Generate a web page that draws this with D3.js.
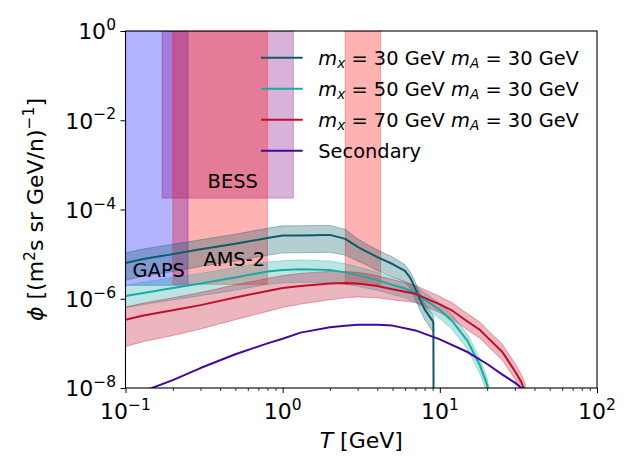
<!DOCTYPE html>
<html><head><meta charset="utf-8">
<script src="https://cdn.jsdelivr.net/npm/d3@7"></script>
<style>body{margin:0;background:#fff}svg{display:block}text{font-family:"DejaVu Sans",sans-serif;fill:#000}</style>
</head><body><svg id="c" width="640" height="476"></svg>
<script>
// ---------------- data ----------------
const T30   = [0.1, 0.13, 0.2, 0.3, 0.5, 0.8, 1.0, 1.3, 1.6, 2.0, 2.5, 3.0, 3.5, 4.0, 5.0, 6.0, 6.5, 7.0, 7.5, 8.0, 9.0, 9.1, 9.17];
const phi30 = [6.3e-6, 7.8e-6, 1.0e-5, 1.29e-5, 1.7e-5, 2.3e-5, 2.6e-5, 2.6e-5, 2.65e-5, 2.7e-5, 2.2e-5, 1.45e-5, 1.1e-5, 8.6e-6, 6.0e-6, 4.2e-6, 2.9e-6, 1.65e-6, 9.4e-7, 5.8e-7, 3.2e-7, 2.9e-7, 1e-12];
const hi30  = [1.07e-5, 1.3e-5, 1.66e-5, 2.1e-5, 2.8e-5, 3.8e-5, 4.3e-5, 4.3e-5, 4.4e-5, 4.4e-5, 3.6e-5, 2.2e-5, 1.6e-5, 1.25e-5, 8.6e-6, 5.8e-6, 4.0e-6, 2.3e-6, 1.3e-6, 8.0e-7, 4.4e-7, 4.0e-7, 1e-12];
const lo30  = [2.6e-6, 3.2e-6, 4.1e-6, 5.3e-6, 7.0e-6, 9.4e-6, 1.07e-5, 1.07e-5, 1.09e-5, 1.1e-5, 9.5e-6, 7.0e-6, 5.5e-6, 4.3e-6, 3.1e-6, 2.4e-6, 1.7e-6, 9.5e-7, 5.5e-7, 3.4e-7, 1.9e-7, 1.7e-7, 1e-12];

const T50   = [0.1, 0.13, 0.2, 0.3, 0.5, 0.8, 1.0, 1.3, 2.0, 2.5, 3.0, 4.0, 5.0, 6.0, 7.0, 8.0, 10, 12, 15, 18, 20, 20.5];
const phi50 = [1.15e-6, 1.35e-6, 1.74e-6, 2.2e-6, 3.0e-6, 4.1e-6, 4.4e-6, 4.6e-6, 4.4e-6, 3.9e-6, 3.4e-6, 2.6e-6, 2.05e-6, 1.7e-6, 1.33e-6, 9.6e-7, 5.6e-7, 3.15e-7, 1.14e-7, 3.2e-8, 1.17e-8, 8e-9];
const hi50  = [2.0e-6, 2.35e-6, 3.0e-6, 3.7e-6, 5.0e-6, 6.7e-6, 7.1e-6, 7.4e-6, 7.0e-6, 6.1e-6, 5.2e-6, 3.9e-6, 3.0e-6, 2.45e-6, 1.9e-6, 1.36e-6, 7.9e-7, 4.4e-7, 1.6e-7, 4.5e-8, 1.65e-8, 1.1e-8];
const lo50  = [6.3e-7, 7.4e-7, 9.4e-7, 1.17e-6, 1.56e-6, 2.1e-6, 2.25e-6, 2.35e-6, 2.3e-6, 2.1e-6, 1.9e-6, 1.55e-6, 1.25e-6, 1.05e-6, 8.4e-7, 6.2e-7, 3.6e-7, 2.05e-7, 7.4e-8, 2.1e-8, 7.6e-9, 5.2e-9];

const T70   = [0.1, 0.13, 0.2, 0.3, 0.5, 0.8, 1.0, 1.3, 2.0, 2.5, 3.0, 4.0, 5.0, 6.0, 7.0, 8.0, 10, 12, 15, 18, 20, 25, 30, 33, 35];
const phi70 = [3.4e-7, 4.2e-7, 5.5e-7, 7.2e-7, 1.07e-6, 1.49e-6, 1.74e-6, 1.94e-6, 2.2e-6, 2.24e-6, 2.2e-6, 1.94e-6, 1.64e-6, 1.44e-6, 1.29e-6, 1.05e-6, 7.5e-7, 5.4e-7, 3.1e-7, 2.0e-7, 1.38e-7, 6.4e-8, 2.4e-8, 1.36e-8, 8e-9];
const hi70  = [6.5e-7, 8.0e-7, 1.05e-6, 1.38e-6, 2.05e-6, 2.85e-6, 3.3e-6, 3.7e-6, 4.1e-6, 4.1e-6, 3.9e-6, 3.3e-6, 2.7e-6, 2.3e-6, 2.0e-6, 1.6e-6, 1.13e-6, 8.1e-7, 4.6e-7, 3.0e-7, 2.05e-7, 9.5e-8, 3.6e-8, 2.0e-8, 1.2e-8];
const lo70  = [8.5e-8, 1.1e-7, 1.5e-7, 2.1e-7, 3.4e-7, 5.2e-7, 6.4e-7, 7.6e-7, 9.5e-7, 1.05e-6, 1.1e-6, 1.05e-6, 9.5e-7, 8.8e-7, 8.2e-7, 6.8e-7, 4.9e-7, 3.5e-7, 2.0e-7, 1.3e-7, 9.0e-8, 4.2e-8, 1.6e-8, 9e-9, 5e-9];

const Tsec   = [0.13, 0.2, 0.3, 0.5, 0.8, 1.0, 1.3, 2.0, 2.5, 3.0, 4.0, 5.0, 7.0, 10, 15, 20, 25, 30, 35];
const phiSec = [8.5e-9, 1.5e-8, 2.8e-8, 5.7e-8, 1.0e-7, 1.27e-7, 1.74e-7, 2.3e-7, 2.48e-7, 2.6e-7, 2.6e-7, 2.5e-7, 1.95e-7, 1.23e-7, 6.4e-8, 3.45e-8, 2.0e-8, 1.32e-8, 8.5e-9];

// experiment sensitivity regions
const regionNames = ["GAPS", "BESS", "AMS-2", "AMS-2b"];
const regionTmin  = [0.1, 0.171, 0.2, 2.5];
const regionTmax  = [0.25, 1.17, 0.8, 4.2];
const regionPhiLo = [2.0e-6, 1.8e-4, 2.1e-6, 2.1e-6];
const regionPhiHi = [1, 1, 1, 1];
const regionColor = ["#0000ff", "#800080", "#ff0000", "#ff0000"];

// annotation labels and their anchor positions (T, phi)
const annText = ["BESS", "GAPS", "AMS-2"];
const annT    = [0.333, 0.111, 0.313];
const annPhi  = [3.1e-4, 3.1e-6, 5.4e-6];

const seriesNames = ["30", "50", "70", "Secondary"];
const seriesColors = ["#0b5c6b", "#17aca2", "#c00e2b", "#44089a"];

const xMajor = [0.1, 1, 10, 100];
const xMajorExp = ["−1", "0", "1", "2"];
const yMajor = [1, 1e-2, 1e-4, 1e-6, 1e-8];
const yMajorExp = ["0", "−2", "−4", "−6", "−8"];

// ---------------- layout ----------------
const L = 125.5, R = 597, TOP = 31, BOT = 388;
const svg = d3.select("#c");
const x = d3.scaleLog().domain([0.1, 100]).range([L, R]);
const y = d3.scaleLog().domain([1e-8, 1]).range([BOT, TOP]);

svg.append("defs").append("clipPath").attr("id", "clip")
  .append("rect").attr("x", L).attr("y", TOP).attr("width", R - L).attr("height", BOT - TOP);

const plot = svg.append("g").attr("clip-path", "url(#clip)");

regionNames.forEach((n, i) => {
  plot.append("rect")
    .attr("x", x(regionTmin[i])).attr("y", y(regionPhiHi[i]))
    .attr("width", x(regionTmax[i]) - x(regionTmin[i]))
    .attr("height", y(regionPhiLo[i]) - y(regionPhiHi[i]))
    .attr("fill", regionColor[i]).attr("fill-opacity", 0.3)
    .attr("stroke", regionColor[i]).attr("stroke-opacity", 0.3).attr("stroke-width", 1);
});

const bands = [[T30, lo30, hi30], [T50, lo50, hi50], [T70, lo70, hi70]];
const area = d3.area().x(d => x(d[0])).y0(d => y(d[1])).y1(d => y(d[2]));
bands.forEach((b, i) => {
  const pts = b[0].map((t, k) => [t, b[1][k], b[2][k]]);
  plot.append("path").attr("d", area(pts))
    .attr("fill", seriesColors[i]).attr("fill-opacity", 0.3)
    .attr("stroke", seriesColors[i]).attr("stroke-opacity", 0.35).attr("stroke-width", 1);
});

const line = d3.line().x(d => x(d[0])).y(d => y(d[1]));
const lines = [[T30, phi30], [T50, phi50], [T70, phi70], [Tsec, phiSec]];
lines.forEach((s, i) => {
  const pts = s[0].map((t, k) => [t, s[1][k]]);
  plot.append("path").attr("d", line(pts)).attr("fill", "none")
    .attr("stroke", seriesColors[i]).attr("stroke-width", 2).attr("stroke-linejoin", "round");
});

annText.forEach((a, i) => {
  svg.append("text").attr("x", x(annT[i])).attr("y", y(annPhi[i])).attr("font-size", "19.4px").text(a);
});

// axes
const xMinor = [];
[0.1, 1, 10].forEach(d => { for (let k = 2; k <= 9; k++) xMinor.push(d * k); });
svg.append("g").attr("transform", `translate(0,${BOT})`)
  .call(d3.axisBottom(x).tickValues(xMinor).tickSize(3).tickFormat(""))
  .call(g => g.select(".domain").remove())
  .selectAll("line").attr("stroke-width", 0.8);
svg.append("g").attr("transform", `translate(0,${BOT})`)
  .call(d3.axisBottom(x).tickValues(xMajor).tickSize(5).tickFormat(""))
  .call(g => g.select(".domain").remove())
  .selectAll("line").attr("stroke-width", 1);
svg.append("g").attr("transform", `translate(${L},0)`)
  .call(d3.axisLeft(y).tickValues(yMajor).tickSize(5).tickFormat(""))
  .call(g => g.select(".domain").remove())
  .selectAll("line").attr("stroke-width", 1);

xMajor.forEach((v, i) => {
  const t = svg.append("text").attr("x", x(v)).attr("y", 419).attr("text-anchor", "middle").attr("font-size", "22px");
  t.append("tspan").text("10");
  t.append("tspan").attr("dy", -9.3).attr("font-size", "15.5px").text(xMajorExp[i]);
});
yMajor.forEach((v, i) => {
  const t = svg.append("text").attr("x", 116).attr("y", y(v) + 8.3).attr("text-anchor", "end").attr("font-size", "22px");
  t.append("tspan").text("10");
  t.append("tspan").attr("dy", -9.3).attr("font-size", "15.5px").text(yMajorExp[i]);
});

svg.append("rect").attr("x", L).attr("y", TOP).attr("width", R - L).attr("height", BOT - TOP)
  .attr("fill", "none").attr("stroke", "#000").attr("stroke-width", 1.1);

const xl = svg.append("text").attr("x", (L + R) / 2).attr("y", 448).attr("text-anchor", "middle").attr("font-size", "22px");
xl.append("tspan").attr("font-style", "italic").text("T");
xl.append("tspan").text(" [GeV]");

const yl = svg.append("text").attr("transform", `translate(43,${(TOP + BOT) / 2}) rotate(-90)`)
  .attr("text-anchor", "middle").attr("font-size", "22px");
yl.append("tspan").attr("font-style", "italic").text("ϕ");
yl.append("tspan").text(" [(m");
yl.append("tspan").attr("dy", -8).attr("font-size", "15.5px").text("2");
yl.append("tspan").attr("dy", 8).text("s sr GeV/n)");
yl.append("tspan").attr("dy", -9).attr("font-size", "15.5px").text("−1");
yl.append("tspan").attr("dy", 9).text("]");

// legend
const legY = [57.7, 88.7, 119.7, 150.7];
const lg = svg.append("g");
seriesNames.forEach((n, i) => {
  lg.append("line").attr("x1", 261).attr("x2", 302.7).attr("y1", legY[i]).attr("y2", legY[i])
    .attr("stroke", seriesColors[i]).attr("stroke-width", 2);
  const t = lg.append("text").attr("x", 318.3).attr("y", legY[i] + 6.8).attr("font-size", "19.4px");
  if (n === "Secondary") { t.attr("y", legY[i] + 7.3).text("Secondary"); return; }
  t.append("tspan").attr("font-style", "italic").text("m");
  t.append("tspan").attr("font-style", "italic").attr("font-size", "13.6px").attr("dy", 3.6).text("x");
  t.append("tspan").attr("dy", -3.6).text(" = " + n + " GeV ");
  t.append("tspan").attr("font-style", "italic").text("m");
  t.append("tspan").attr("font-style", "italic").attr("font-size", "13.6px").attr("dy", 3.6).text("A");
  t.append("tspan").attr("dy", -3.6).text(" = 30 GeV");
});
</script></body></html>
